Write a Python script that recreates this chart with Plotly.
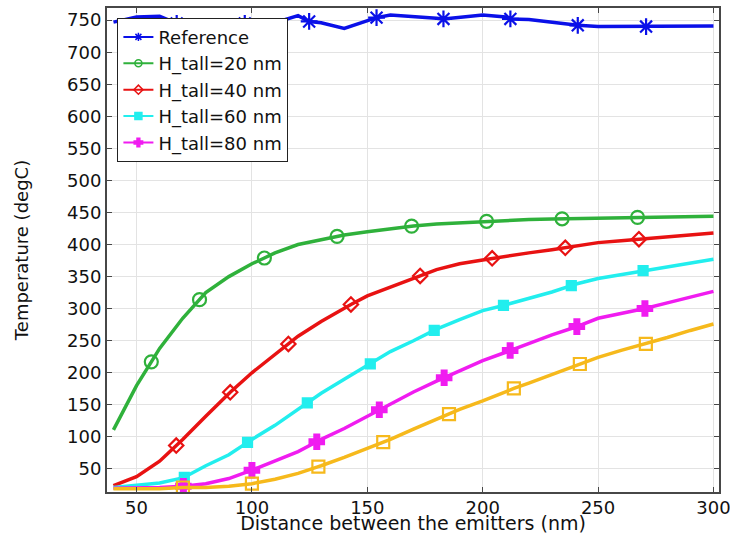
import numpy as np
import plotly.graph_objects as go

# Distance between the emitters (nm), sampled every 10 nm
distance = list(range(40, 301, 10))

# Temperatures (degC) along the sampled distances
t_reference = [747, 755, 756, 744, 750, 746, 744, 746, 757, 746, 737, 750, 758, 756,
               753, 755, 758, 755, 751, 747, 743, 740, 740, 740, 740, 741, 741]
t_h20 = [111, 180, 238, 285, 325, 350, 370, 387, 400, 408, 415, 420, 425, 429,
         432, 434, 436, 438, 439, 440, 440.5, 441, 442, 442.7, 443, 443.5, 444]
t_h40 = [24, 38, 62, 96, 132, 167, 200, 228, 257, 280, 301, 320, 333, 347,
         361, 370, 376, 382, 387, 392, 397, 403, 406, 409, 412, 415, 418]
t_h60 = [21, 24, 28, 36, 55, 72, 96, 118, 143, 168, 190, 211, 233, 250,
         268, 283, 297, 306, 315, 326, 338, 347, 353, 360, 366, 371, 377]
t_h80 = [20, 20, 21, 23, 27, 35, 48, 62, 77, 96, 113, 132, 152, 170,
         187, 203, 219, 232, 246, 259, 271, 285, 292, 300, 309, 318, 327]
t_h100 = [19, 19, 19, 21, 21, 23, 27, 34, 43, 55, 68, 82, 96, 112,
          127, 143, 156, 171, 184, 197, 211, 224, 235, 245, 255, 266, 276]

# Marker locations placed along each curve
mk_reference_x = [67.4, 96.9, 124.8, 154.0, 183.0, 212.0, 241.2, 270.8]
mk_reference_y = [745, 745, 748, 754, 752, 752, 742, 740]
mk_h20_x = [56.4, 77.3, 105.4, 136.9, 169.2, 201.7, 234.4, 267.1]
mk_h20_y = [217, 314, 379, 412.8, 428.7, 436.3, 440.2, 442.5]
mk_h40_x = [67.2, 90.6, 115.8, 142.9, 172.9, 204.1, 235.8, 267.7]
mk_h40_y = [86.5, 169.5, 245, 306.5, 351, 378.5, 395, 408.3]
mk_h60_x = [70.7, 98.1, 124.0, 151.3, 179.0, 209.0, 238.4, 269.5]
mk_h60_y = [37, 91.4, 153, 214, 266, 305, 336, 359.4]
mk_h80_x = [70.3, 100.0, 128.1, 155.2, 183.3, 211.9, 240.8, 270.3]
mk_h80_y = [23, 48, 92.4, 142.4, 192.3, 234.7, 272, 300.2]
mk_h100_x = [70.1, 100.0, 128.8, 156.9, 185.4, 213.5, 242.1, 270.7]
mk_h100_y = [21, 27, 53.6, 91.7, 135.6, 175.5, 213.7, 245]

series = [
    # name, y values, marker x, marker y, colour, symbol, size, in legend
    ("Reference", t_reference, mk_reference_x, mk_reference_y, "#0a10e8", "asterisk-open", 14, True),
    ("H_tall=20 nm", t_h20, mk_h20_x, mk_h20_y, "#2fb13b", "circle-open", 13, True),
    ("H_tall=40 nm", t_h40, mk_h40_x, mk_h40_y, "#e81212", "diamond-open", 11, True),
    ("H_tall=60 nm", t_h60, mk_h60_x, mk_h60_y, "#22eeee", "square", 9, True),
    ("H_tall=80 nm", t_h80, mk_h80_x, mk_h80_y, "#f01cf0", "cross", 12, True),
    ("H_tall=100 nm", t_h100, mk_h100_x, mk_h100_y, "#f6b91c", "square-open", 12, False),
]

fig = go.Figure()
for name, ys, mx, my, color, symbol, size, in_legend in series:
    # line through the sampled points and the marker points
    px = np.concatenate([distance, mx])
    py = np.concatenate([ys, my])
    order = np.argsort(px, kind="stable")
    fig.add_trace(go.Scatter(x=px[order], y=py[order], mode="lines",
                             line=dict(color=color, width=3.5),
                             showlegend=False, hoverinfo="skip"))
    fig.add_trace(go.Scatter(x=mx, y=my, mode="markers",
                             marker=dict(symbol=symbol, size=size, color=color,
                                         line=dict(color=color, width=2.2)),
                             showlegend=False))
    if in_legend:
        fig.add_trace(go.Scatter(x=[None], y=[None], mode="lines+markers", name=name,
                                 line=dict(color=color, width=2),
                                 marker=dict(symbol=symbol, size=7, color=color,
                                             line=dict(color=color, width=1.5))))

axis_common = dict(
    showline=True, linecolor="#474747", linewidth=2, mirror="ticks",
    ticks="inside", ticklen=5, tickwidth=1, tickcolor="#474747",
    showgrid=True, gridcolor="#e3e3e3", gridwidth=1, zeroline=False,
    tickfont=dict(family="DejaVu Sans", size=18, color="#111111"),
    ticklabeloverflow="allow",
)

fig.update_xaxes(range=[37.2, 302.4], tickmode="array", tickvals=[50, 100, 150, 200, 250, 300],
                 ticklabelstandoff=-2,
                 title=dict(text="Distance between the emitters (nm)", standoff=0,
                            font=dict(family="DejaVu Sans", size=19, color="#111111")),
                 **axis_common)
fig.update_yaxes(range=[14, 769], tickmode="array", tickvals=list(range(50, 751, 50)),
                 title=dict(text="Temperature (degC)", standoff=34,
                            font=dict(family="DejaVu Sans", size=18, color="#111111")),
                 **axis_common)

fig.update_layout(
    width=730, height=534,
    margin=dict(l=107, r=11, t=8, b=42, autoexpand=False),
    plot_bgcolor="white", paper_bgcolor="white",
    font=dict(family="DejaVu Sans", size=18, color="#111111"),
    legend=dict(x=0.017, y=0.98, xanchor="left", yanchor="top",
                bgcolor="white", bordercolor="#222222", borderwidth=1,
                font=dict(family="DejaVu Sans", size=18, color="#111111"),
                tracegroupgap=0, itemwidth=30),
    showlegend=True,
)

fig.write_html("out.html")
